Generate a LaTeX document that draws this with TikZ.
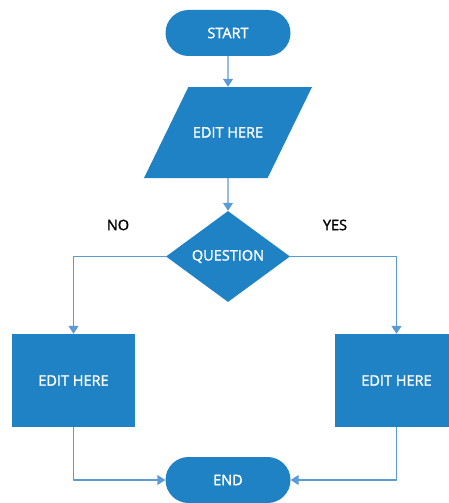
\documentclass[tikz,border=0pt]{standalone}
\usepackage{fontspec}
\setmainfont{Open Sans}[FakeBold=1.6]
\usetikzlibrary{shapes.geometric,arrows.meta}
\definecolor{boxblue}{HTML}{1F82C4}
\definecolor{lineblue}{HTML}{5B9BD5}
\begin{document}
\begin{tikzpicture}[x=1pt,y=-1pt,line join=round,font=\fontsize{14.5}{17}\selectfont,
	term/.style={fill=boxblue,text=white,rounded corners=23pt,minimum width=125pt,minimum height=46pt},
	io/.style={trapezium,trapezium left angle=64,trapezium right angle=116,trapezium stretches body,
		fill=boxblue,text=white,minimum width=168pt,text height=10pt,text depth=0pt,inner ysep=40.5pt,inner xsep=0pt},
	decision/.style={diamond,aspect=1.36,fill=boxblue,text=white,minimum width=124pt,minimum height=91pt,inner sep=0pt},
	proc/.style={fill=boxblue,text=white,minimum width=123pt,minimum height=93pt},
	flow/.style={draw=lineblue,line width=1.4pt,-{Triangle[width=10pt,length=8pt]}}]
	\useasboundingbox (0,0) rectangle (449,503);
	\node[term] (start) at (228,33) {START};
	\node[io] (edit) at (228,132.5) {EDIT HERE};
	\node[decision] (quest) at (228,256.5) {QUESTION};
	\node[proc] (left) at (73.5,380.5) {EDIT HERE};
	\node[proc] (right) at (396.5,380.5) {EDIT HERE};
	\node[term] (end) at (228,480) {END};
	\node (no) at (118,225) {NO};
	\node (yes) at (335,225) {YES};
	\draw[flow] (start) -- (edit);
	\draw[flow] (edit) -- (quest);
	\draw[flow] (quest.west) -| (left.north);
	\draw[flow] (quest.east) -| (right.north);
	\draw[flow] (left.south) |- (end.west);
	\draw[flow] (right.south) |- (end.east);
\end{tikzpicture}
\end{document}
